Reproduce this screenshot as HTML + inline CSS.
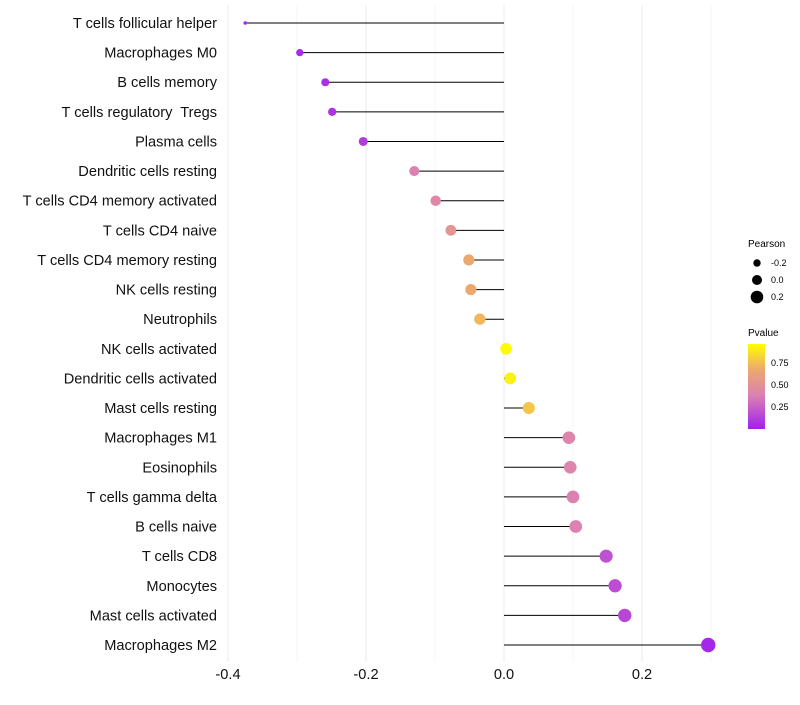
<!DOCTYPE html>
<html><head><meta charset="utf-8"><style>
body{margin:0;background:#fff;font-family:"Liberation Sans",sans-serif}
text{white-space:pre}
</style></head><body>
<svg id="chart" width="800" height="700" xmlns="http://www.w3.org/2000/svg">
<defs><linearGradient id="pg" x1="0" y1="1" x2="0" y2="0">
<stop offset="0" stop-color="#a020f0"/><stop offset="0.4" stop-color="#dc82b0"/><stop offset="0.7" stop-color="#eda86e"/><stop offset="1" stop-color="#ffff00"/></linearGradient></defs>
<g id="grid"></g><g id="marks"></g><g id="labels"></g>
<g font-size="9">
<text x="748" y="247" font-size="10">Pearson</text>
<circle cx="757" cy="263" r="3.7"/><text x="771" y="266">-0.2</text>
<circle cx="757" cy="280" r="5"/><text x="771" y="283">0.0</text>
<circle cx="757" cy="297" r="6.3"/><text x="771" y="300">0.2</text>
</g>
<g font-size="9">
<text x="748" y="336" font-size="10">Pvalue</text>
<rect x="748" y="344" width="17" height="85" fill="url(#pg)"/>
<text x="771" y="366">0.75</text><text x="771" y="388">0.50</text><text x="771" y="410">0.25</text>
</g>
</svg>
<script>
const categories=["T cells follicular helper","Macrophages M0","B cells memory","T cells regulatory  Tregs","Plasma cells","Dendritic cells resting","T cells CD4 memory activated","T cells CD4 naive","T cells CD4 memory resting","NK cells resting","Neutrophils","NK cells activated","Dendritic cells activated","Mast cells resting","Macrophages M1","Eosinophils","T cells gamma delta","B cells naive","T cells CD8","Monocytes","Mast cells activated","Macrophages M2"];
const pearson=[-0.375,-0.296,-0.259,-0.249,-0.204,-0.130,-0.099,-0.077,-0.051,-0.048,-0.035,0.003,0.009,0.036,0.094,0.096,0.100,0.104,0.148,0.161,0.175,0.296];
const pvalue=[0.03,0.05,0.07,0.08,0.12,0.4,0.45,0.55,0.7,0.7,0.75,0.98,0.95,0.8,0.42,0.42,0.4,0.4,0.2,0.18,0.16,0.03];
const xTicks=[-0.4,-0.2,0.0,0.2];
const xTickLabels=["-0.4","-0.2","0.0","0.2"];
const NS="http://www.w3.org/2000/svg";
const xs=v=>504+v*690;
const ys=i=>23+i*(622/21);
const pMin=Math.min(...pearson),pMax=Math.max(...pearson);
const rs=v=>1.8+5.4*Math.sqrt((v-pMin)/(pMax-pMin));
function col(p){const st=[[0,[160,32,240]],[0.4,[220,130,176]],[0.7,[237,168,110]],[1,[255,255,0]]];
for(let k=1;k<st.length;k++){if(p<=st[k][0]){const a=st[k-1],b=st[k],t=(p-a[0])/(b[0]-a[0]);return "rgb("+a[1].map((c,j)=>Math.round(c+(b[1][j]-c)*t)).join(",")+")";}}return "rgb(255,255,0)";}
function mk(t,a,p){const e=document.createElementNS(NS,t);for(const k in a)e.setAttribute(k,a[k]);p.appendChild(e);return e;}
const grid=document.getElementById('grid'),marks=document.getElementById('marks'),labels=document.getElementById('labels');
[-0.4,-0.3,-0.2,-0.1,0,0.1,0.2,0.3].forEach(v=>{const l=mk('line',{x1:xs(v),x2:xs(v),y1:5,y2:662,stroke:(Math.round(v*10)%2===0)?'#ebebeb':'#f5f5f5','stroke-width':1},grid);

});
xTicks.forEach((v,i)=>{const t=mk('text',{x:xs(v),y:679,'text-anchor':'middle','font-size':14.6,fill:'#111'},labels);t.textContent=xTickLabels[i];

});
categories.forEach((c,i)=>{const y=ys(i);
const t=mk('text',{x:217,y:y+5,'text-anchor':'end','font-size':14.6,fill:'#111'},labels);t.textContent=c;


const l=mk('line',{x1:xs(0),x2:xs(pearson[i]),y1:y,y2:y,stroke:'#000','stroke-width':1},marks);


const d=mk('circle',{cx:xs(pearson[i]),cy:y,r:rs(pearson[i]),fill:col(pvalue[i])},marks);

});
</script>
</body></html>
